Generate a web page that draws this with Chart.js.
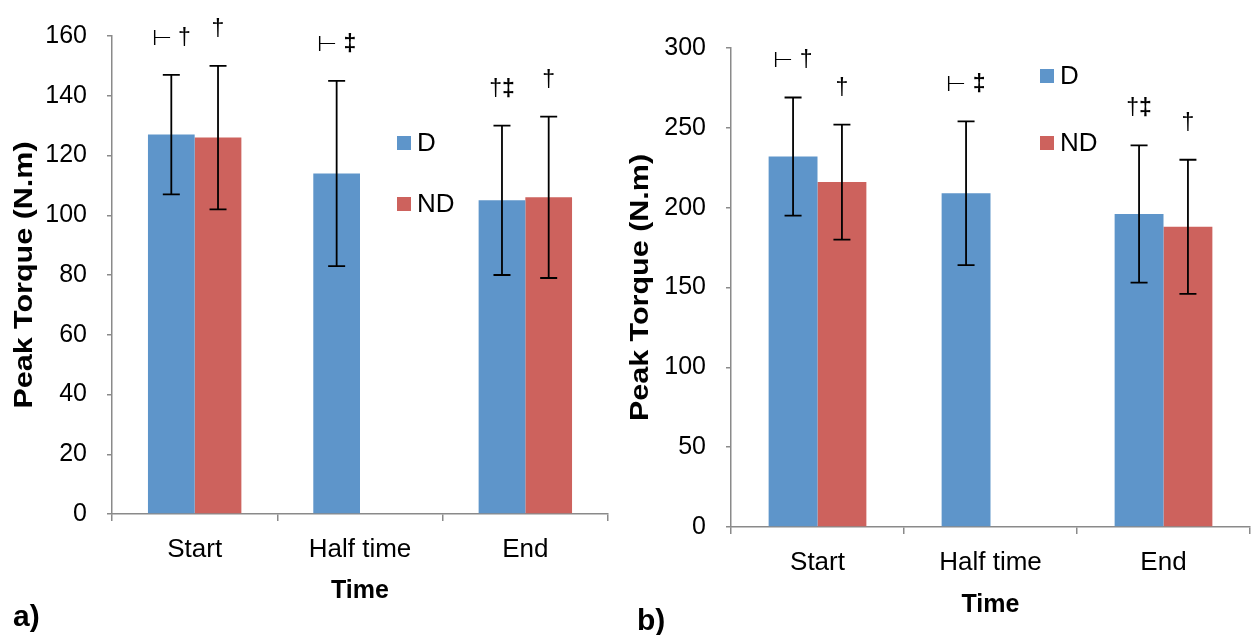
<!DOCTYPE html>
<html>
<head>
<meta charset="utf-8">
<script src="https://cdn.jsdelivr.net/npm/chart.js@4.4.1/dist/chart.umd.min.js"></script>
<style>
  html, body { margin: 0; padding: 0; background: #fff; }
  canvas { position: absolute; top: 0; }
</style>
</head>
<body>
<canvas id="chartA" width="625" height="635" style="left:0"></canvas>
<canvas id="chartB" width="629" height="635" style="left:625px"></canvas>
<script>
const categories = ['Start', 'Half time', 'End'];
const seriesNames = ['D', 'ND'];
const seriesColors = ['#5e95ca', '#cd625d'];

// a) peak torque, mean ± SD
const torqueA_D  = [127, 114, 105];
const torqueA_ND = [126, null, 106];
const sdA_D  = [20, 31, 25];
const sdA_ND = [24, null, 27];
const marksA_D  = ['⊢ †', '⊢ ‡', '†‡'];
const marksA_ND = ['†', null, '†'];
const yMaxA = 160, yStepA = 20;

// b) peak torque, mean ± SD
const torqueB_D  = [232, 209, 196];
const torqueB_ND = [216, null, 188];
const sdB_D  = [37, 45, 43];
const sdB_ND = [36, null, 42];
const marksB_D  = ['⊢ †', '⊢ ‡', '†‡'];
const marksB_ND = ['†', null, '†'];
const yMaxB = 300, yStepB = 50;

const yTitle = 'Peak Torque (N.m)';
const xTitle = 'Time';

const FONT = "'Liberation Sans', Arial, sans-serif";
Chart.defaults.font.family = FONT;
Chart.defaults.color = '#000';

// significance marks, the double dagger is set heavier than the rest
function drawMark(ctx, text, cx, baseline) {
  const chars = [...text];
  const fontFor = c => (c === '‡' ? 'bold 23px ' : '23px ') + FONT;
  let total = 0;
  const widths = chars.map(c => { ctx.font = fontFor(c); const w = ctx.measureText(c).width; total += w; return w; });
  let x = cx - total / 2;
  ctx.textAlign = 'left';
  ctx.textBaseline = 'alphabetic';
  chars.forEach((c, k) => {
    ctx.font = fontFor(c);
    ctx.fillText(c, x, baseline);
    x += widths[k];
  });
}

const errorBars = {
  id: 'errorBars',
  afterDatasetsDraw(chart) {
    const { ctx } = chart;
    const y = chart.scales.y;
    ctx.save();
    ctx.strokeStyle = '#000';
    ctx.fillStyle = '#000';
    ctx.lineWidth = 1.8;
    chart.data.datasets.forEach((ds, i) => {
      chart.getDatasetMeta(i).data.forEach((bar, j) => {
        const v = ds.data[j];
        if (v == null) return;
        const top = y.getPixelForValue(v + ds.sd[j]);
        const bot = y.getPixelForValue(v - ds.sd[j]);
        ctx.beginPath();
        ctx.moveTo(bar.x, top); ctx.lineTo(bar.x, bot);
        ctx.moveTo(bar.x - 8.5, top); ctx.lineTo(bar.x + 8.5, top);
        ctx.moveTo(bar.x - 8.5, bot); ctx.lineTo(bar.x + 8.5, bot);
        ctx.stroke();
        if (ds.marks[j]) drawMark(ctx, ds.marks[j], bar.x, top - 30);
      });
    });
    ctx.restore();
  }
};

// legend drawn inside the plot, stacked vertically
const boxLegend = {
  id: 'boxLegend',
  afterDraw(chart, args, opts) {
    const { ctx } = chart;
    ctx.save();
    ctx.font = '26px ' + FONT;
    ctx.textBaseline = 'middle';
    ctx.textAlign = 'left';
    chart.data.datasets.forEach((ds, i) => {
      const top = opts.top + i * opts.gap;
      ctx.fillStyle = ds.backgroundColor;
      ctx.fillRect(opts.left, top, 14, 14);
      ctx.fillStyle = '#000';
      ctx.fillText(ds.label, opts.left + 20, top + 8);
    });
    ctx.restore();
  }
};

// rotated y title, widened along its length
const sideTitle = {
  id: 'sideTitle',
  afterDraw(chart, args, opts) {
    const { ctx, chartArea } = chart;
    ctx.save();
    ctx.translate(opts.x, (chartArea.top + chartArea.bottom) / 2);
    ctx.rotate(-Math.PI / 2);
    ctx.scale(1.22, 1);
    ctx.font = 'bold 25px ' + FONT;
    ctx.fillStyle = '#000';
    ctx.textAlign = 'center';
    ctx.textBaseline = 'middle';
    ctx.fillText(yTitle, 0, 0);
    ctx.restore();
  }
};

const panelTag = {
  id: 'panelTag',
  afterDraw(chart, args, opts) {
    const { ctx } = chart;
    ctx.save();
    ctx.font = 'bold 30px ' + FONT;
    ctx.fillStyle = '#000';
    ctx.textBaseline = 'alphabetic';
    ctx.fillText(opts.text, opts.x, opts.y);
    ctx.restore();
  }
};

function makeChart(id, p) {
  const datasets = [
    { label: seriesNames[0], data: p.d, sd: p.sdD, marks: p.marksD },
    { label: seriesNames[1], data: p.nd, sd: p.sdND, marks: p.marksND }
  ].map((ds, i) => Object.assign(ds, {
    backgroundColor: seriesColors[i],
    borderWidth: 0,
    categoryPercentage: 0.565,
    barPercentage: 1
  }));

  return new Chart(document.getElementById(id), {
    type: 'bar',
    data: { labels: categories, datasets },
    options: {
      responsive: false,
      animation: false,
      layout: { padding: { left: 0, right: p.padRight, top: p.top, bottom: 0 } },
      plugins: {
        legend: { display: false },
        tooltip: { enabled: false },
        boxLegend: p.legend,
        sideTitle: { x: p.titleX },
        panelTag: p.tag
      },
      scales: {
        x: {
          grid: { drawOnChartArea: false, tickLength: 7, color: '#8a8a8a', lineWidth: 1.5, offset: true },
          border: { color: '#8a8a8a', width: 1.5 },
          ticks: { font: { size: 26 }, padding: 13 },
          title: { display: true, text: xTitle, font: { size: 25, weight: 'bold' }, padding: { top: 0, bottom: p.timePad } },
          afterFit: s => { s.height = p.xHeight; }
        },
        y: {
          min: 0,
          max: p.yMax,
          grid: { drawOnChartArea: false, tickLength: 5, color: '#8a8a8a', lineWidth: 1.5 },
          border: { color: '#8a8a8a', width: 1.5 },
          ticks: { stepSize: p.yStep, font: { size: 25 }, padding: 20 },
          afterFit: s => { s.width = p.yWidth; }
        }
      }
    },
    plugins: [errorBars, boxLegend, sideTitle, panelTag]
  });
}

makeChart('chartA', {
  d: torqueA_D, nd: torqueA_ND, sdD: sdA_D, sdND: sdA_ND, marksD: marksA_D, marksND: marksA_ND,
  yMax: yMaxA, yStep: yStepA,
  top: 36, padRight: 17, yWidth: 112, xHeight: 121, timePad: 29, titleX: 25,
  legend: { left: 397, top: 136, gap: 61 },
  tag: { text: 'a)', x: 13, y: 626 }
});

makeChart('chartB', {
  d: torqueB_D, nd: torqueB_ND, sdD: sdB_D, sdND: sdB_ND, marksD: marksB_D, marksND: marksB_ND,
  yMax: yMaxB, yStep: yStepB,
  top: 48, padRight: 4, yWidth: 106, xHeight: 108, timePad: 15, titleX: 16,
  legend: { left: 415, top: 69, gap: 67 },
  tag: { text: 'b)', x: 12, y: 630 }
});
</script>
</body>
</html>
